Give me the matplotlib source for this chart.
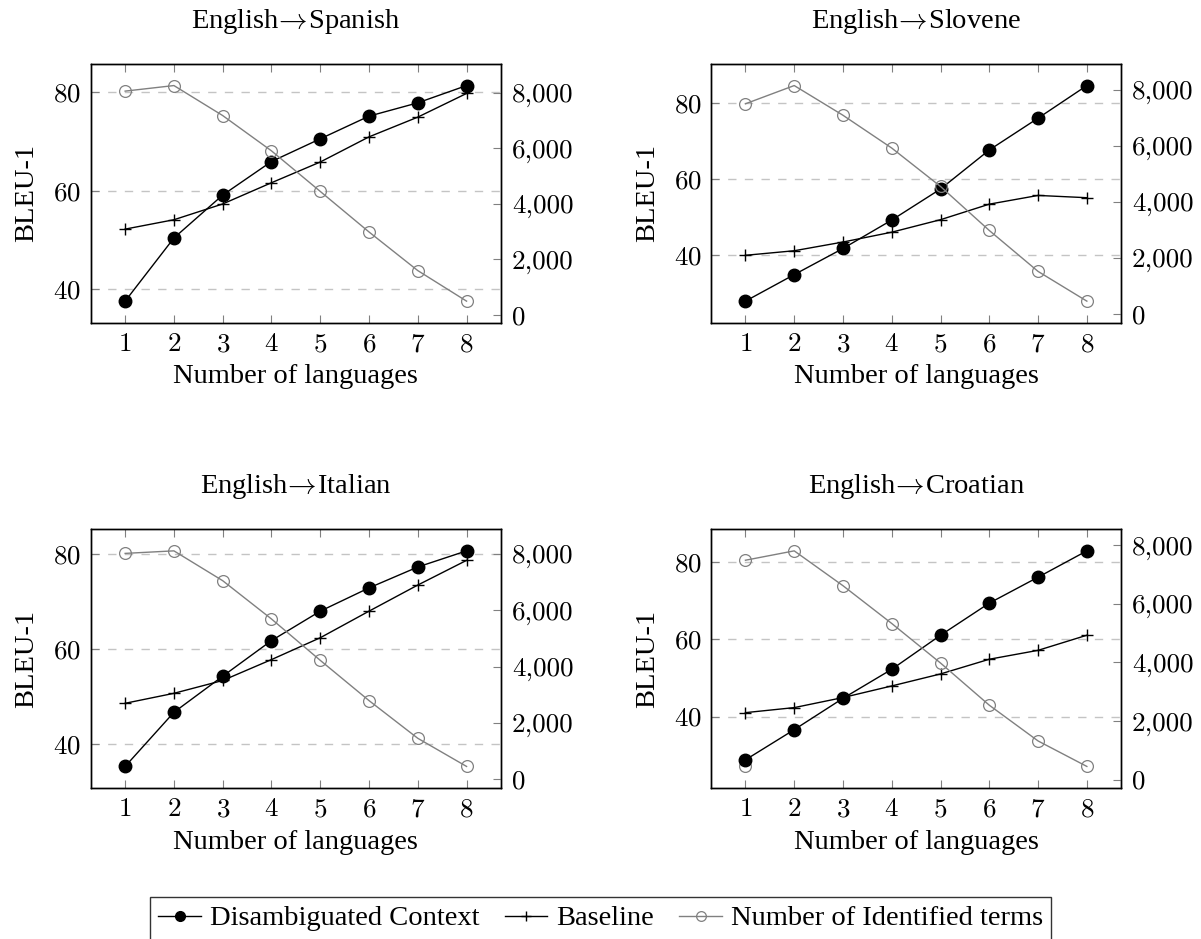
import matplotlib
matplotlib.use("Agg")
import matplotlib.pyplot as plt
from matplotlib.ticker import MultipleLocator, FuncFormatter

plt.rcParams["font.family"] = ["Liberation Serif", "DejaVu Serif"]
plt.rcParams["mathtext.fontset"] = "cm"
plt.rcParams["axes.formatter.use_mathtext"] = True
plt.rcParams["lines.scale_dashes"] = False

W, H = 1201, 939
TXT = 20.5
TICK = 19.5
GRAY = "#808080"

langs = [1, 2, 3, 4, 5, 6, 7, 8]
ARROW = "$\\!\\rightarrow\\!$"
titles = ["English" + ARROW + "Spanish", "English" + ARROW + "Slovene",
          "English" + ARROW + "Italian", "English" + ARROW + "Croatian"]

# BLEU-1, disambiguated context
disamb_es = [37.6, 50.4, 59.1, 65.9, 70.5, 75.1, 77.8, 81.3]
disamb_sl = [27.8, 34.8, 41.7, 49.2, 57.4, 67.7, 76.1, 84.7]
disamb_it = [35.3, 46.7, 54.3, 61.8, 68.0, 72.9, 77.3, 80.7]
disamb_hr = [28.8, 36.6, 44.7, 52.2, 61.0, 69.3, 76.0, 82.8]

# BLEU-1, baseline
base_es = [52.2, 54.1, 57.3, 61.6, 65.8, 70.9, 74.9, 79.7]
base_sl = [39.9, 41.1, 43.4, 46.0, 49.3, 53.4, 55.7, 55.1]
base_it = [48.6, 50.7, 53.4, 57.8, 62.4, 68.0, 73.5, 78.7]
base_hr = [41.0, 42.3, 44.9, 47.9, 51.0, 54.8, 57.1, 61.0]

# number of identified terms (right axis)
terms_es = [8050, 8250, 7170, 5900, 4440, 2980, 1590, 490]
terms_sl = [7500, 8150, 7090, 5920, 4550, 2980, 1520, 460]
terms_it = [8020, 8110, 7050, 5690, 4220, 2790, 1450, 450]
terms_hr = [7490, 7810, 6620, 5330, 3980, 2540, 1320, 450]

# lone open circle in the Croatian panel (on the BLEU axis)
stray_hr_x = [1]
stray_hr_y = [27.1]

disamb = [disamb_es, disamb_sl, disamb_it, disamb_hr]
base = [base_es, base_sl, base_it, base_hr]
terms = [terms_es, terms_sl, terms_it, terms_hr]

fig = plt.figure(figsize=(W / 100, H / 100), dpi=100)

# axes boxes in pixels: left, top
boxes = [(91, 64), (711.3, 64), (91, 529.3), (711.3, 529.3)]
bw, bh = 409.7, 258.7

thousands = FuncFormatter(lambda v, p: f"{int(round(v)):,}")

for i, (x0, y0) in enumerate(boxes):
    ax = fig.add_axes([x0 / W, 1 - (y0 + bh) / H, bw / W, bh / H])
    ax2 = ax.twinx()

    ax.yaxis.grid(True, linestyle=(0, (6, 6)), color="#c4c4c4", lw=1.0)
    ax.set_axisbelow(True)
    l1, = ax.plot(langs, disamb[i], color="black", lw=1.0, marker="o", ms=9,
                  mfc="black", mec="black", label="Disambiguated Context")
    l2, = ax.plot(langs, base[i], color="black", lw=1.0, marker="+", ms=9,
                  mew=1.0, label="Baseline")
    l3, = ax2.plot(langs, terms[i], color=GRAY, lw=1.0, marker="o", ms=8.5,
                   mfc="none", mec=GRAY, mew=0.9, label="Number of Identified terms")
    if i == 3:
        ax.plot(stray_hr_x, stray_hr_y, ls="none", marker="o", ms=8.5,
                mfc="none", mec=GRAY, mew=0.9, zorder=1.5)

    ax.set_xlim(0.3, 8.7)
    ax.margins(y=0.1)
    ax2.margins(y=0.1)
    ax.set_xticks(langs)
    ax.yaxis.set_major_locator(MultipleLocator(20))
    ax2.yaxis.set_major_locator(MultipleLocator(2000))
    ax2.yaxis.set_major_formatter(thousands)

    ax.tick_params(axis="both", direction="in", length=6, width=0.8, color=GRAY,
                   labelsize=TICK, top=True, right=False)
    ax.tick_params(axis="x", pad=7)
    ax.tick_params(axis="y", pad=7)
    ax2.tick_params(axis="y", direction="in", length=6, width=0.8, color=GRAY,
                    labelsize=TICK, pad=8)
    for a in (ax, ax2):
        for lab in a.get_xticklabels() + a.get_yticklabels():
            lab.set_fontfamily("cmr10")
        for s in a.spines.values():
            s.set_linewidth(1.0)

    ax.set_ylabel("BLEU-1", fontsize=TXT, labelpad=10)
    ax.set_xlabel("Number of languages", fontsize=TXT, labelpad=6)
    ax.set_title(titles[i], fontsize=TXT, pad=26)

leg = fig.legend(handles=[l1, l2, l3], loc="upper center", ncol=3,
                 bbox_to_anchor=(0.5, 1 - 897 / H), fontsize=TXT,
                 frameon=True, fancybox=False, edgecolor="black",
                 handlelength=1.5, handletextpad=0.3, columnspacing=0.9,
                 borderpad=0.3, borderaxespad=0)
leg.get_frame().set_linewidth(1.0)
for h in leg.legend_handles:
    h.set_markersize(7)

fig.savefig("out.png", dpi=100)
